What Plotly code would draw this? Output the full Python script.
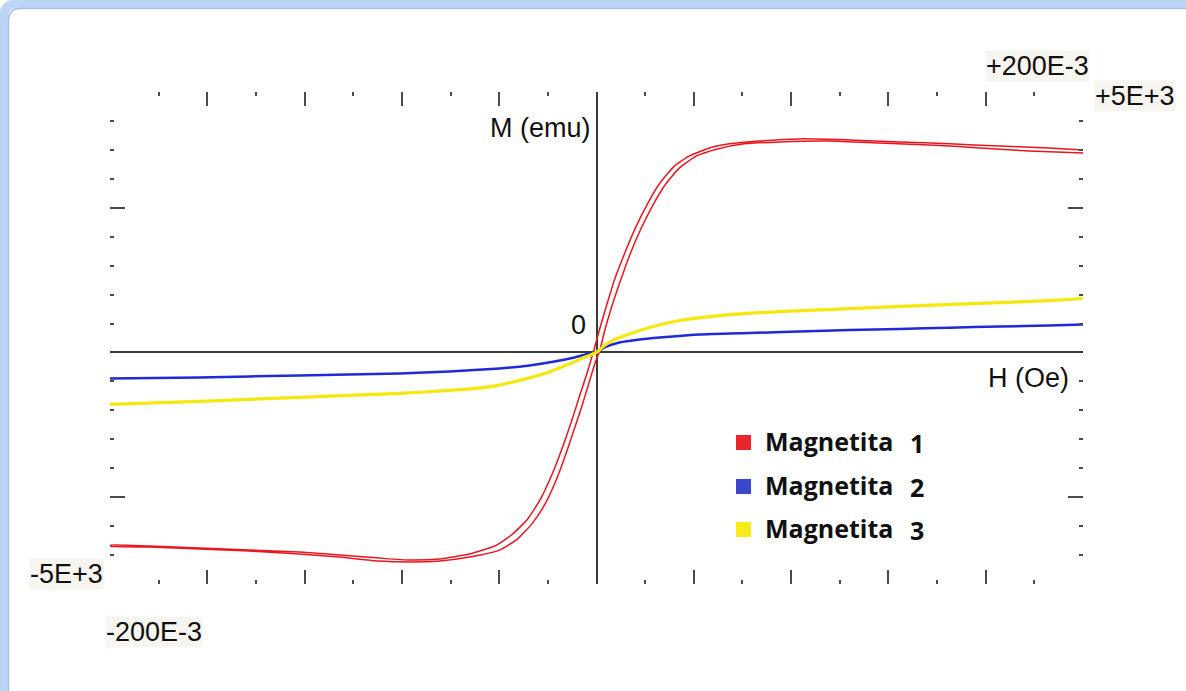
import plotly.graph_objects as go

W, H = 1186, 691

# ---------------- data (H in Oe, M in emu) ----------------
H_M1_DESC = [5000, 4655, 4142, 3628, 3114, 2600, 2086, 1675, 1367, 1161, 956, 802, 647, 524, 401, 288,
             185, 103, 31, -31, -92, -175, -257, -349, -452, -576, -709, -874, -1048, -1305, -1613,
             -1922, -2230, -2641, -3052, -3566, -4080, -4594, -5000]
M_M1_DESC = [0.1750, 0.1767, 0.1784, 0.1802, 0.1819, 0.1836, 0.1845, 0.1827, 0.1802, 0.1767, 0.1698,
             0.1612, 0.1457, 0.1284, 0.1078, 0.0853, 0.0629, 0.0405, 0.0198, 0.0009, -0.0164, -0.0379,
             -0.0595, -0.0819, -0.1043, -0.1267, -0.1440, -0.1577, -0.1672, -0.1741, -0.1784, -0.1793,
             -0.1776, -0.1750, -0.1724, -0.1707, -0.1690, -0.1672, -0.1664]
H_M1_ASC = [-5000, -4594, -4080, -3566, -3052, -2641, -2230, -1922, -1613, -1305, -997, -812, -658, -524,
            -411, -319, -236, -154, -82, -10, 31, 82, 154, 236, 339, 452, 576, 699, 853, 1028, 1244, 1521,
            1881, 2395, 2908, 3422, 3936, 4450, 5000]
M_M1_ASC = [-0.1672, -0.1681, -0.1698, -0.1715, -0.1741, -0.1767, -0.1802, -0.1810, -0.1802, -0.1767,
            -0.1707, -0.1612, -0.1474, -0.1302, -0.1095, -0.0888, -0.0681, -0.0474, -0.0276, -0.0078,
            0.0009, 0.0181, 0.0388, 0.0595, 0.0836, 0.1060, 0.1267, 0.1440, 0.1595, 0.1698, 0.1758,
            0.1802, 0.1819, 0.1827, 0.1810, 0.1793, 0.1767, 0.1741, 0.1724]

H_M2 = [-5000, -4080, -3052, -2025, -1511, -997, -689, -432, -226, -72, 0, 82, 236, 442, 750, 1059,
        1572, 2086, 2600, 3114, 3628, 4142, 4655, 5000]
M_M2 = [-0.0224, -0.0216, -0.0198, -0.0181, -0.0164, -0.0138, -0.0112, -0.0078, -0.0043, -0.0009, 0.0,
        0.0043, 0.0086, 0.0112, 0.0136, 0.0155, 0.0168, 0.0181, 0.0194, 0.0203, 0.0214, 0.0224, 0.0233,
        0.0241]

H_M3 = [-5000, -4080, -3052, -2025, -1511, -1100, -791, -534, -329, -175, -72, 0, 82, 185, 339, 545,
        853, 1264, 1881, 2600, 3320, 4142, 4655, 5000]
M_M3 = [-0.0448, -0.0422, -0.0388, -0.0353, -0.0328, -0.0297, -0.0241, -0.0181, -0.0116, -0.0060,
        -0.0026, 0.0, 0.0060, 0.0112, 0.0160, 0.0216, 0.0276, 0.0319, 0.0353, 0.0379, 0.0405, 0.0431,
        0.0448, 0.0466]

SERIES_NAMES = ["Magnetita", "Magnetita", "Magnetita"]
SERIES_NUMS = ["1", "2", "3"]
SERIES_COLORS = ["#e8161e", "#1f2bd6", "#f6e80c"]
LEGEND_SWATCH = ["#e8262c", "#3b47cc", "#f7ec1a"]

X_RANGE = [-5000, 5000]
Y_RANGE = [-0.2, 0.225]
X_MAJOR = [-4000, -3000, -2000, -1000, 1000, 2000, 3000, 4000]
X_MINOR = [-5000, -4500, -3500, -2500, -1500, -500, 500, 1500, 2500, 3500, 4500, 5000]
Y_MAJOR = [-0.125, 0.125]
Y_MINOR = [-0.2, -0.175, -0.15, -0.1, -0.075, -0.05, -0.025, 0.025, 0.05, 0.075, 0.1,
           0.15, 0.175, 0.2, 0.225]

CORNER_LABELS = ["+200E-3", "+5E+3", "-5E+3", "-200E-3"]
AXIS_TITLES = ["M (emu)", "H (Oe)", "0"]


def px(x):
    return x / W


def py(y):
    return 1 - y / H


fig = go.Figure()

fig.add_trace(go.Scatter(
    x=H_M1_DESC + H_M1_ASC, y=M_M1_DESC + M_M1_ASC, mode="lines",
    line=dict(color=SERIES_COLORS[0], width=1.5, shape="spline", smoothing=0.5),
    name=SERIES_NAMES[0] + " " + SERIES_NUMS[0], showlegend=False))
fig.add_trace(go.Scatter(
    x=H_M2, y=M_M2, mode="lines",
    line=dict(color=SERIES_COLORS[1], width=2.5, shape="spline", smoothing=0.5),
    name=SERIES_NAMES[1] + " " + SERIES_NUMS[1], showlegend=False))
fig.add_trace(go.Scatter(
    x=H_M3, y=M_M3, mode="lines",
    line=dict(color=SERIES_COLORS[2], width=3.2, shape="spline", smoothing=0.5),
    name=SERIES_NAMES[2] + " " + SERIES_NUMS[2], showlegend=False))
# dummy trace for the mirrored tick axes
fig.add_trace(go.Scatter(x=[None], y=[None], xaxis="x2", yaxis="y2", showlegend=False,
                         hoverinfo="skip"))

TICKC = "#4a4a4a"
xdom = [px(110), px(1083)]
ydom = [py(584), py(92)]


def xax(side, zero):
    return dict(domain=xdom, range=X_RANGE, showgrid=False, zeroline=zero,
                zerolinecolor="#3a3a3a", zerolinewidth=2, showticklabels=False,
                showline=False, side=side, tickmode="array", tickvals=X_MAJOR,
                ticks="inside", ticklen=14, tickwidth=2, tickcolor=TICKC,
                minor=dict(tickmode="array", tickvals=X_MINOR, ticks="inside",
                           ticklen=4, tickwidth=2, tickcolor=TICKC, showgrid=False))


def yax(side, zero):
    return dict(domain=ydom, range=Y_RANGE, showgrid=False, zeroline=zero,
                zerolinecolor="#3a3a3a", zerolinewidth=2, showticklabels=False,
                showline=False, side=side, tickmode="array", tickvals=Y_MAJOR,
                ticks="inside", ticklen=15, tickwidth=2, tickcolor=TICKC,
                minor=dict(tickmode="array", tickvals=Y_MINOR, ticks="inside",
                           ticklen=4, tickwidth=2, tickcolor=TICKC, showgrid=False))


xa2 = xax("top", False)
xa2.update(overlaying="x", anchor="y2")
ya2 = yax("right", False)
ya2.update(overlaying="y", anchor="x2")

fig.update_layout(
    width=W, height=H, margin=dict(l=0, r=0, t=0, b=0),
    paper_bgcolor="white", plot_bgcolor="rgba(0,0,0,0)",
    xaxis=xax("bottom", True), yaxis=yax("left", True),
    xaxis2=xa2, yaxis2=ya2, showlegend=False,
)

lab_font = dict(family="Liberation Sans, Arial", size=27, color="#111111")
bg = "#f6f5f0"
ann = [
    dict(text=CORNER_LABELS[0], x=px(1090), y=py(66), xanchor="right", yanchor="middle", bgcolor=bg),
    dict(text=CORNER_LABELS[1], x=px(1094), y=py(96), xanchor="left", yanchor="middle", bgcolor=bg),
    dict(text=CORNER_LABELS[2], x=px(104), y=py(574), xanchor="right", yanchor="middle", bgcolor=bg),
    dict(text=CORNER_LABELS[3], x=px(105), y=py(632), xanchor="left", yanchor="middle", bgcolor=bg),
    dict(text=AXIS_TITLES[0], x=px(592), y=py(128), xanchor="right", yanchor="middle"),
    dict(text=AXIS_TITLES[1], x=px(1070), y=py(378), xanchor="right", yanchor="middle"),
    dict(text=AXIS_TITLES[2], x=px(587), y=py(325), xanchor="right", yanchor="middle"),
]
for a in ann:
    a.update(xref="paper", yref="paper", showarrow=False, font=lab_font, borderpad=0)

leg_font = dict(family="Open Sans", size=25, color="#111111")
row_y = [441, 485, 528]
shapes = []
for i in range(3):
    ann.append(dict(text="<b>" + SERIES_NAMES[i] + "</b>", x=px(763), y=py(row_y[i]),
                    xanchor="left", yanchor="middle", xref="paper", yref="paper",
                    showarrow=False, font=leg_font))
    ann.append(dict(text="<b>" + SERIES_NUMS[i] + "</b>", x=px(908), y=py(row_y[i] + 2),
                    xanchor="left", yanchor="middle", xref="paper", yref="paper",
                    showarrow=False, font=leg_font))
    shapes.append(dict(type="rect", xref="paper", yref="paper",
                       x0=px(736), x1=px(751), y0=py(row_y[i] + 9), y1=py(row_y[i] - 6),
                       fillcolor=LEGEND_SWATCH[i], line=dict(width=0)))


# light-blue frame around the picture (top-left rounded corner)
def frame_path(off):
    return ("M %f %f L %f %f Q %f %f %f %f L %f %f" % (
        px(off), py(720), px(off), py(off + 12), px(off), py(off), px(off + 12), py(off),
        px(1220), py(off)))


shapes.append(dict(type="path", xref="paper", yref="paper", path=frame_path(4),
                   line=dict(color="#bcd5f7", width=9), layer="above"))
shapes.append(dict(type="path", xref="paper", yref="paper", path=frame_path(8.5),
                   line=dict(color="#9fc1ef", width=1.5), layer="above"))

fig.update_layout(annotations=ann, shapes=shapes)

fig.write_html("out.html")
